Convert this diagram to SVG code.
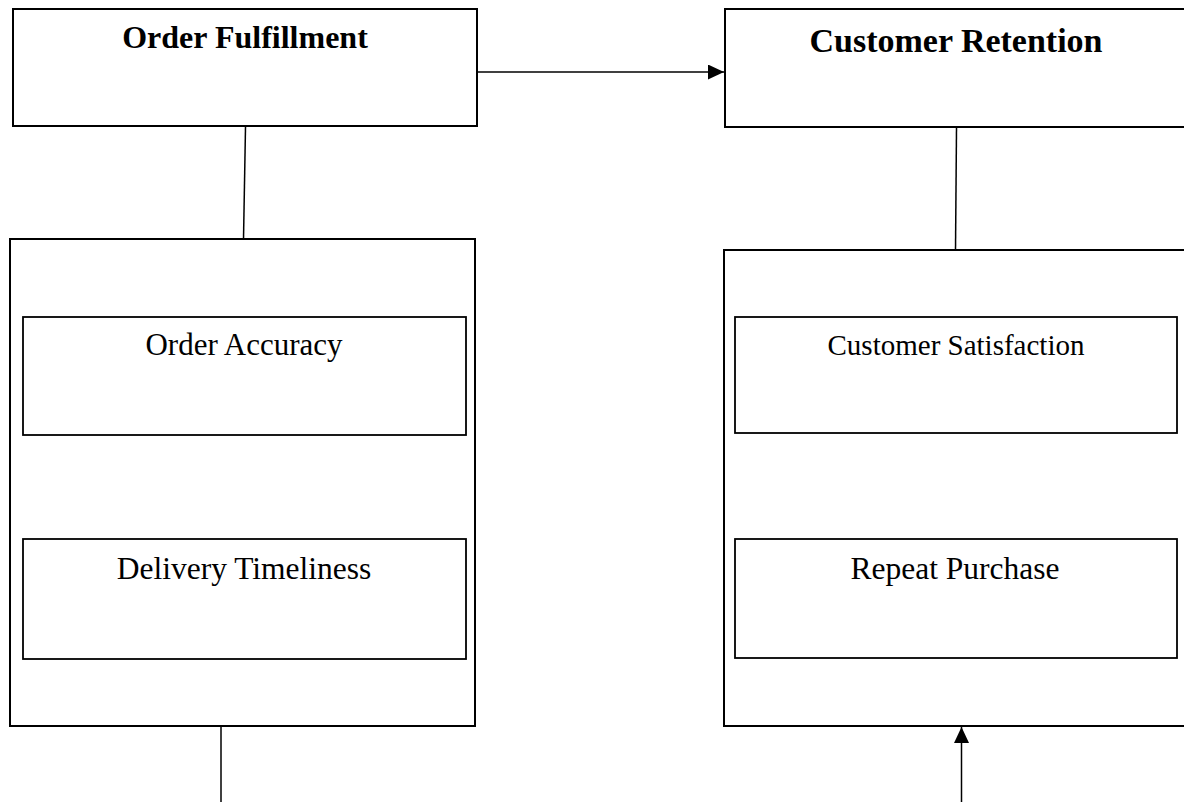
<svg xmlns="http://www.w3.org/2000/svg" width="1184" height="802" viewBox="0 0 1184 802">
<style>
.box{fill:#fff;stroke:#000;stroke-width:2}
.ibox{fill:#fff;stroke:#000;stroke-width:1.8}
.title{font-family:"Liberation Serif","Times New Roman",serif;font-weight:bold;fill:#000;text-anchor:middle}
.lbl{font-family:"Liberation Serif","Times New Roman",serif;fill:#000;text-anchor:middle}
.con{stroke:#000;stroke-width:1.5;fill:none}
</style>
<defs>
<marker id="ah" markerWidth="10" markerHeight="10" refX="10" refY="5" orient="auto" markerUnits="userSpaceOnUse" viewBox="0 0 10 10">
<path d="M0,0 L10,5 L0,10 Z" fill="#000"/>
</marker>
<marker id="ah2" markerWidth="16" markerHeight="15" refX="16" refY="7.5" orient="auto" markerUnits="userSpaceOnUse" viewBox="0 0 16 15">
<path d="M0,0 L16,7.5 L0,15 Z" fill="#000"/>
</marker>
</defs>
<rect width="1184" height="802" fill="#fff"/>
<g id="order-fulfillment">
<rect class="box" x="13" y="9" width="464" height="117"/>
<text class="title" x="245" y="48" font-size="32">Order Fulfillment</text>
</g>
<g id="customer-retention">
<rect class="box" x="725" y="9" width="470" height="118"/>
<text class="title" x="956" y="52" font-size="34">Customer Retention</text>
</g>
<g id="fulfillment-metrics">
<rect class="box" x="10" y="239" width="465" height="487"/>
</g>
<g id="order-accuracy">
<rect class="ibox" x="23" y="317" width="443" height="118"/>
<text class="lbl" x="244" y="355" font-size="31">Order Accuracy</text>
</g>
<g id="delivery-timeliness">
<rect class="ibox" x="23" y="539" width="443" height="120"/>
<text class="lbl" x="244" y="579" font-size="31.5">Delivery Timeliness</text>
</g>
<g id="retention-metrics">
<rect class="box" x="724" y="250" width="470" height="476"/>
</g>
<g id="customer-satisfaction">
<rect class="ibox" x="735" y="317" width="442" height="116"/>
<text class="lbl" x="956" y="355" font-size="29">Customer Satisfaction</text>
</g>
<g id="repeat-purchase">
<rect class="ibox" x="735" y="539" width="442" height="119"/>
<text class="lbl" x="955" y="579" font-size="31.5">Repeat Purchase</text>
</g>
<g id="connectors">
<line class="con" x1="478" y1="72" x2="724" y2="72" marker-end="url(#ah2)"/>
<line class="con" x1="245.5" y1="127" x2="243.5" y2="239"/>
<line class="con" x1="956.5" y1="128" x2="955.5" y2="250"/>
<line class="con" x1="221" y1="727" x2="221" y2="802" stroke-width="2.5"/>
<line class="con" x1="961.5" y1="802" x2="961.5" y2="727" marker-end="url(#ah2)"/>
</g>
</svg>
